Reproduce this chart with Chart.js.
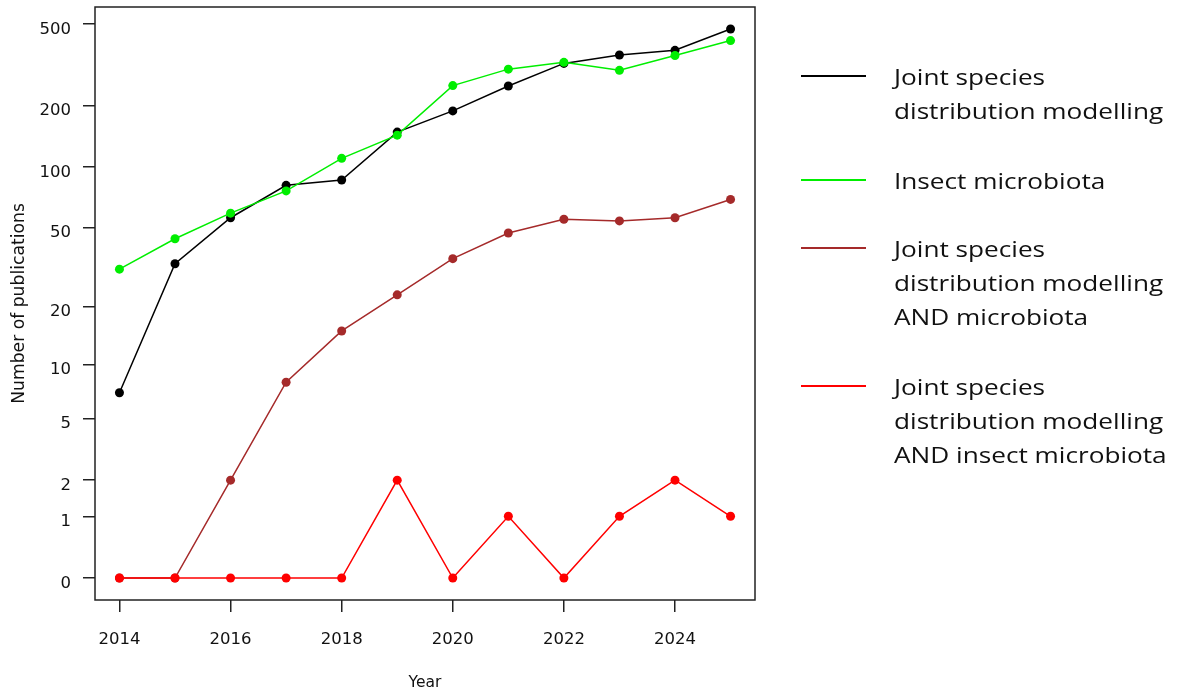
<!DOCTYPE html>
<html><head><meta charset="utf-8">
<script src="https://cdn.jsdelivr.net/npm/chart.js@4/dist/chart.umd.min.js"></script>
<style>
html,body{margin:0;padding:0;background:#fff;}
#wrap{position:relative;width:1178px;height:696px;}
canvas{position:absolute;left:0;top:0;}
.leg{position:absolute;font-family:"Open Sans",sans-serif;font-size:22px;line-height:34px;color:#111;white-space:nowrap;transform:scaleX(1.19);transform-origin:0 0;}
.sw{position:absolute;height:2px;width:65px;left:801px;}
</style></head>
<body><div id="wrap"><canvas id="c" width="1178" height="696"></canvas>
<div id="legend"></div></div>
<script>
const years = [2014,2015,2016,2017,2018,2019,2020,2021,2022,2023,2024,2025];
const jsdm = [7,33,56,81,86,148,188,249,321,353,372,473];
const insectMicrobiota = [31,44,59,76,110,143,250,301,325,297,351,415];
const jsdmMicrobiota = [0,0,2,8,15,23,35,47,55,54,56,69];
const jsdmInsectMicrobiota = [0,0,0,0,0,2,0,1,0,1,2,1];
const yTickLabels = [0,1,2,5,10,20,50,100,200,500];
const xTickLabels = [2014,2016,2018,2020,2022,2024];
const seriesNames = [
  ["Joint species","distribution modelling"],
  ["Insect microbiota"],
  ["Joint species","distribution modelling","AND microbiota"],
  ["Joint species","distribution modelling","AND insect microbiota"]
];
const seriesColors = ["#000000","#00EE00","#A52A2A","#FF0000"];
const seriesValues = [jsdm, insectMicrobiota, jsdmMicrobiota, jsdmInsectMicrobiota];

const tr = v => Math.log10(v + 1);
const allT = seriesValues.flat().map(tr);
const lo = Math.min(...allT), hi = Math.max(...allT);
const yPad = (hi - lo) * 0.04;
const xPad = (years[years.length-1] - years[0]) * 0.04;

const datasets = seriesValues.map((vals, i) => ({
  label: seriesNames[i].join(' '),
  data: years.map((y, j) => ({x: y, y: tr(vals[j])})),
  borderColor: seriesColors[i],
  backgroundColor: seriesColors[i],
  borderWidth: 1.5,
  pointRadius: 4.5,
  pointBorderWidth: 0,
  pointHoverRadius: 4.5,
  tension: 0,
  order: 4 - i
}));

const boxPlugin = {
  id: 'box',
  afterDraw(chart) {
    const {ctx, chartArea: a} = chart;
    ctx.save();
    ctx.strokeStyle = '#222';
    ctx.lineWidth = 1.5;
    ctx.strokeRect(a.left, a.top, a.right - a.left, a.bottom - a.top);
    ctx.restore();
  }
};

const axisFont = 'DejaVu Sans, Liberation Sans, Arial';

new Chart(document.getElementById('c'), {
  type: 'line',
  data: {datasets},
  plugins: [boxPlugin],
  options: {
    responsive: false,
    animation: false,
    layout: {padding: {top: 7, right: 423, left: 0, bottom: 0}},
    plugins: {legend: {display: false}, tooltip: {enabled: false}},
    scales: {
      x: {
        type: 'linear',
        min: years[0] - xPad,
        max: years[years.length-1] + xPad,
        afterBuildTicks: s => { s.ticks = xTickLabels.map(v => ({value: v})); },
        afterFit: s => { s.height = 96; s.paddingLeft = 0; s.paddingRight = 0; },
        border: {display: false},
        grid: {drawOnChartArea: false, drawTicks: true, tickLength: 12, tickColor: '#222', lineWidth: 1.5},
        ticks: {color: '#111', font: {family: axisFont, size: 16.5}, padding: 18, maxRotation: 0,
                callback: v => String(v)},
        title: {display: true, text: 'Year', color: '#111', font: {family: axisFont, size: 15.5}, padding: {top: 0, bottom: 4}}
      },
      y: {
        type: 'linear',
        min: lo - yPad,
        max: hi + yPad,
        afterBuildTicks: s => { s.ticks = yTickLabels.map(v => ({value: tr(v)})); },
        afterFit: s => { s.width = 95; s.paddingTop = 0; s.paddingBottom = 0; },
        border: {display: false},
        grid: {drawOnChartArea: false, drawTicks: true, tickLength: 12, tickColor: '#222', lineWidth: 1.5},
        ticks: {color: '#111', font: {family: axisFont, size: 16.5}, padding: 12, labelOffset: 5.5,
                callback: v => String(Math.round(Math.pow(10, v) - 1))},
        title: {display: true, text: 'Number of publications', color: '#111', font: {family: axisFont, size: 17.2}, padding: {top: 9, bottom: 0}}
      }
    }
  }
});

// legend (HTML text)
const legendFirstLineY = [78, 182, 250, 388];
const lg = document.getElementById('legend');
seriesNames.forEach((lines, i) => {
  const sw = document.createElement('div');
  sw.className = 'sw';
  sw.style.top = (legendFirstLineY[i] - 3) + 'px';
  sw.style.background = seriesColors[i];
  lg.appendChild(sw);
  const t = document.createElement('div');
  t.className = 'leg';
  t.style.left = '894px';
  t.style.top = (legendFirstLineY[i] - 19) + 'px';
  t.innerHTML = lines.join('<br>');
  lg.appendChild(t);
});
</script></body></html>
